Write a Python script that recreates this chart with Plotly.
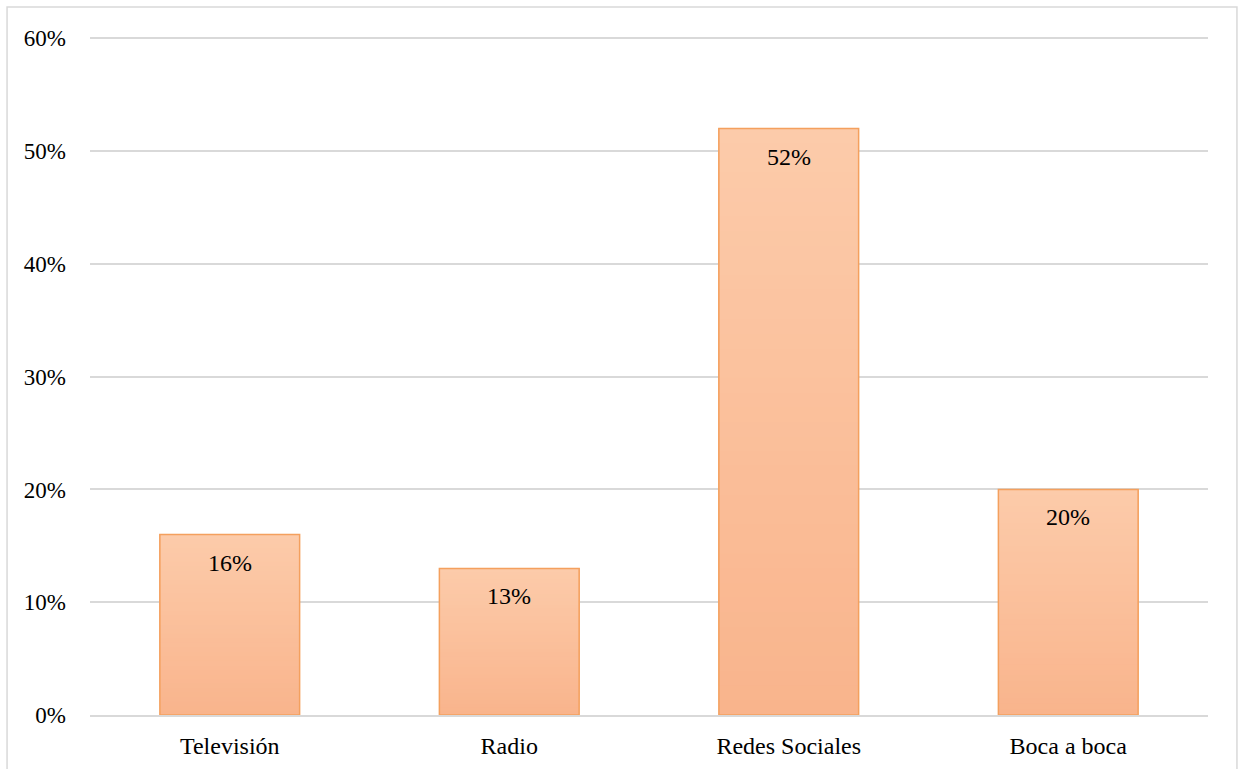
import plotly.graph_objects as go

categories = ["Televisión", "Radio", "Redes Sociales", "Boca a boca"]
values = [0.16, 0.13, 0.52, 0.20]
tick_vals = [0, 0.1, 0.2, 0.3, 0.4, 0.5, 0.6]
tick_text = ["0%", "10%", "20%", "30%", "40%", "50%", "60%"]

FONT = "Times New Roman"
top_rgb = (252, 203, 170)
bot_rgb = (249, 180, 140)
N = 40

fig = go.Figure()
for i in range(N):
    t = (i + 0.5) / N
    c = tuple(round(b + (a - b) * t) for a, b in zip(top_rgb, bot_rgb))
    fig.add_trace(go.Bar(
        x=categories, y=[v * (N - i) / N for v in values], base=[v * i / N for v in values],
        marker=dict(color="rgb(%d,%d,%d)" % c, line=dict(width=0)),
        width=0.5, hoverinfo="skip", showlegend=False,
    ))
fig.add_trace(go.Bar(
    x=categories, y=values,
    marker=dict(color="rgba(0,0,0,0)", line=dict(color="#F4A05E", width=1.5)),
    width=0.5, showlegend=False,
))

for c, v in zip(categories, values):
    fig.add_annotation(x=c, y=v, text=f"{round(v*100)}%", showarrow=False,
                       yshift=-28, font=dict(family=FONT, size=24, color="#000"))

fig.add_shape(type="rect", xref="paper", yref="paper",
              x0=-0.0742, x1=1.0259, y0=-0.2, y1=1.041,
              line=dict(color="#D9D9D9", width=1.5), layer="below")

fig.update_layout(
    barmode="overlay",
    width=1239, height=769,
    margin=dict(l=90, r=31, t=35, b=54, autoexpand=False),
    paper_bgcolor="white", plot_bgcolor="white",
    font=dict(family=FONT, size=24, color="#000"),
    xaxis=dict(showgrid=False, showline=True, linecolor="#D9D9D9", linewidth=1.5,
               ticks="", ticklabelstandoff=8, tickfont=dict(size=24), automargin=False),
    yaxis=dict(range=[0, 0.603], tickvals=tick_vals, ticktext=tick_text,
               showgrid=True, gridcolor="#D9D9D9", gridwidth=1.5, zeroline=False,
               showline=False, ticks="", ticklabelstandoff=23, tickfont=dict(size=23),
               automargin=False),
)

fig.write_html("out.html")
